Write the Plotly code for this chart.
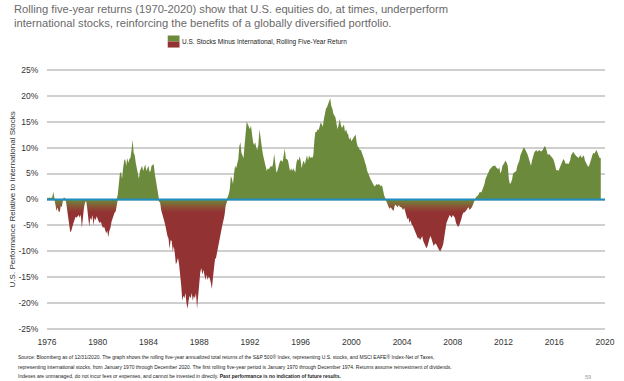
import pandas as pd
import plotly.graph_objects as go

# Rolling five-year return: U.S. stocks minus international (percentage points), monthly from Jan 1976
start_month = "1976-01-01"
rel_return = [
    0.4, 0.2, 0.4, 0.3, 0.3, 0.5, 1.5, 0.3, -1.0, -2.2, -1.5, -2.3,            # 1976
    -2.4, -1.2, -1.5, -0.3, 0.4, 0.3, -0.4, -2.0, -3.5, -5.0, -6.3, -6.0,      # 1977
    -5.0, -4.5, -4.0, -3.3, -3.5, -3.2, -3.0, -3.5, -2.9, -5.5, -3.0, -1.6,    # 1978
    -0.6, -0.3, -1.5, -3.0, -5.2, -3.5, -4.0, -3.0, -5.0, -3.5, -4.0, -3.2,    # 1979
    -3.8, -4.3, -4.5, -4.3, -5.0, -5.5, -5.2, -5.8, -6.5, -6.0, -7.2, -6.0,    # 1980
    -5.5, -4.3, -3.6, -3.0, -2.5, -2.3, -1.0, 1.0, 3.0, 5.0, 5.3, 4.0,         # 1981
    6.0, 7.5, 7.8, 6.5, 8.0, 7.0, 7.8, 8.0, 9.5, 11.5, 9.0, 8.5,               # 1982
    7.0, 5.8, 4.5, 4.0, 5.5, 6.2, 6.5, 5.5, 6.0, 6.8, 5.5, 6.0,                # 1983
    6.5, 5.3, 5.5, 6.5, 6.6, 6.8, 5.0, 3.5, 2.0, 0.5, -0.4, -0.6,              # 1984
    -2.0, -3.0, -3.8, -4.2, -5.0, -6.5, -7.0, -7.5, -9.5, -7.8, -8.0, -10.0,   # 1985
    -9.0, -10.5, -12.5, -12.0, -11.2, -12.5, -14.0, -16.5, -19.5, -18.5, -19.0, -18.0,  # 1986
    -20.0, -21.0, -19.5, -18.5, -19.0, -18.0, -19.5, -18.5, -19.0, -18.0, -21.0, -18.0,  # 1987
    -16.0, -14.0, -13.2, -14.5, -13.5, -14.8, -15.5, -14.5, -15.5, -14.8, -15.2, -16.0,  # 1988
    -17.2, -15.0, -12.5, -11.5, -11.2, -10.0, -9.3, -8.0, -6.5, -5.5, -4.8, -4.0,       # 1989
    -3.0, -1.2, -0.3, 0.5, 1.0, 2.0, 4.5, 4.0, 3.0, 5.0, 6.5, 6.0,             # 1990
    6.8, 7.8, 10.2, 11.0, 9.0, 8.5, 8.0, 10.5, 13.0, 15.0, 14.5, 14.0,         # 1991
    13.5, 14.2, 12.5, 11.0, 10.5, 11.0, 10.0, 9.5, 10.5, 13.5, 12.0, 10.0,     # 1992
    9.0, 8.0, 7.0, 6.0, 5.5, 6.0, 5.8, 6.2, 6.5, 6.2, 7.0, 8.8,                # 1993
    7.0, 5.2, 5.5, 6.5, 7.0, 7.5, 7.5, 7.2, 9.0, 9.8, 7.8, 7.8,                # 1994
    7.5, 6.2, 5.5, 6.0, 5.5, 6.0, 5.5, 5.2, 7.0, 7.8, 7.5, 8.3,                # 1995
    7.5, 6.0, 7.0, 7.5, 6.8, 7.5, 8.5, 7.5, 8.5, 8.0, 8.2, 8.0,                # 1996
    8.5, 11.5, 13.0, 13.0, 13.5, 13.3, 14.0, 14.8, 14.5, 14.0, 15.5, 17.0,     # 1997
    17.5, 17.8, 18.5, 19.0, 19.5, 18.0, 17.5, 16.5, 16.0, 15.8, 14.5, 13.5,    # 1998
    14.5, 15.5, 14.5, 13.8, 14.0, 14.5, 13.0, 13.5, 12.8, 12.5, 11.5, 12.0,    # 1999
    11.2, 11.5, 11.8, 12.0, 12.5, 11.0, 10.2, 10.0, 9.5, 9.5, 9.0, 8.5,        # 2000
    7.8, 7.0, 6.5, 5.5, 4.8, 4.5, 4.0, 3.5, 3.0, 2.8, 2.5, 2.8,                # 2001
    3.0, 2.8, 3.0, 2.8, 2.5, 2.8, 1.5, 0.8, 0.3, -0.3, -0.8, -1.5,             # 2002
    -1.8, -1.5, -1.8, -2.0, -2.2, -1.2, -1.0, -1.3, -1.5, -1.0, -1.5, -1.4,    # 2003
    -1.6, -2.0, -1.6, -2.5, -2.8, -3.8, -3.5, -4.5, -4.0, -4.8, -5.0, -5.5,    # 2004
    -6.0, -6.5, -7.2, -7.5, -7.3, -7.8, -7.5, -7.0, -8.0, -8.5, -9.2, -9.4,    # 2005
    -9.0, -8.0, -7.5, -7.0, -7.5, -8.3, -9.0, -8.5, -8.5, -9.0, -9.5, -9.7,    # 2006
    -10.0, -9.6, -9.2, -8.5, -7.0, -6.0, -4.5, -4.0, -3.5, -3.0, -3.2, -3.5,   # 2007
    -3.0, -3.2, -3.5, -4.5, -5.0, -5.3, -5.0, -4.5, -3.8, -3.0, -2.5, -2.5,    # 2008
    -2.3, -2.0, -1.7, -1.5, -2.0, -1.8, -1.5, -1.0, -0.5, 0.1, 0.5, 0.7,       # 2009
    0.8, 1.3, 1.5, 1.3, 1.8, 2.5, 3.0, 4.0, 4.5, 5.0, 5.2, 5.8,                # 2010
    6.0, 6.3, 6.5, 6.4, 6.6, 6.2, 6.0, 5.8, 6.2, 5.0, 5.5, 6.5,                # 2011
    6.8, 7.2, 7.5, 7.0, 6.5, 4.0, 3.0, 3.2, 3.8, 5.0, 5.2, 5.2,                # 2012
    5.5, 6.5, 7.0, 7.5, 8.5, 9.0, 9.5, 10.0, 9.8, 9.5, 9.0, 8.5,               # 2013
    7.8, 7.2, 6.5, 7.5, 8.3, 9.0, 9.3, 9.5, 9.2, 9.3, 9.5, 9.3,                # 2014
    9.3, 9.5, 9.8, 10.3, 10.0, 9.3, 8.5, 8.8, 8.5, 8.3, 8.0, 7.8,              # 2015
    7.2, 6.0, 5.6, 5.7, 5.5, 6.0, 6.5, 7.2, 7.5, 7.8, 7.0, 6.8,                # 2016
    7.0, 6.8, 7.0, 7.5, 8.5, 9.0, 9.2, 8.8, 8.5, 8.3, 8.2, 8.0,                # 2017
    8.3, 8.5, 8.0, 8.3, 8.5, 7.5, 7.0, 6.5, 6.3, 6.5, 7.0, 7.8,                # 2018
    8.5, 9.0, 8.8, 9.2, 9.5, 9.0, 8.5, 8.0, 8.0,                               # 2019
]
year_ticks = [1976, 1980, 1984, 1988, 1992, 1996, 2000, 2004, 2008, 2012, 2016, 2020]
pct_ticks = [-25, -20, -15, -10, -5, 0, 5, 10, 15, 20, 25]

title_lines = ["Rolling five-year returns (1970-2020) show that U.S. equities do, at times, underperform",
               "international stocks, reinforcing the benefits of a globally diversified portfolio."]
legend_text = "U.S. Stocks Minus International, Rolling Five-Year Return"
yaxis_text = "U.S. Performance Relative to International Stocks"
footnote_lines = [
    "Source: Bloomberg as of 12/31/2020. The graph shows the rolling five-year annualized total returns of the S&P 500® Index, representing U.S. stocks, and MSCI EAFE® Index-Net of Taxes,",
    "representing international stocks, from January 1970 through December 2020. The first rolling five-year period is January 1970 through December 1974. Returns assume reinvestment of dividends.",
    "Indexes are unmanaged, do not incur fees or expenses, and cannot be invested in directly. <b>Past performance is no indication of future results.</b>",
]
page_number = "59"

GREEN = "#6C8A3B"
RED = "#923232"
BLUE = "#1F8DC2"
SANS = "Liberation Sans, Arial, sans-serif"

W, H = 624, 381
L, R, T, B = 46.7, 9.7, 68.4, 50.4
PW, PH = W - L - R, H - T - B


def px(x):
    return (x - L) / PW


def py(y):
    return (H - B - y) / PH


dates = pd.date_range(start_month, periods=len(rel_return), freq="MS")
pos = [max(v, 0) for v in rel_return]
neg = [min(v, 0) for v in rel_return]

fig = go.Figure()
fig.add_trace(go.Scatter(x=dates, y=pos, mode="lines", line=dict(width=0, color=GREEN),
                         fill="tozeroy", fillcolor=GREEN, hoverinfo="skip", showlegend=False))
fig.add_trace(go.Scatter(x=dates, y=neg, mode="lines", line=dict(width=0, color=RED),
                         fill="tozeroy",
                         fillgradient=dict(type="vertical", start=-2.5, stop=0,
                                           colorscale=[[0, RED], [0.35, "#8E4A34"], [1, GREEN]]),
                         hoverinfo="skip", showlegend=False))

fig.add_shape(type="line", xref="paper", x0=0, x1=1, yref="y", y0=0, y1=0,
              line=dict(color=BLUE, width=2), layer="above")

# title (two separate lines for tight spacing)
for i, line in enumerate(title_lines):
    fig.add_annotation(xref="paper", yref="paper", x=px(11), y=py(10 + 14 * i),
                       xanchor="left", yanchor="middle", showarrow=False, text=line,
                       font=dict(family=SANS, size=11.2, color="#6A6A6A"))

# legend swatch (manual)
fig.add_shape(type="rect", xref="paper", yref="paper", x0=px(169.5), x1=px(181.5),
              y0=py(42), y1=py(36), fillcolor=GREEN, line=dict(width=0))
fig.add_shape(type="rect", xref="paper", yref="paper", x0=px(169.5), x1=px(181.5),
              y0=py(48), y1=py(42), fillcolor=RED, line=dict(width=0))
fig.add_annotation(xref="paper", yref="paper", x=px(182), y=py(42),
                   xanchor="left", yanchor="middle", showarrow=False, text=legend_text,
                   font=dict(family=SANS, size=6.5, color="#222222"))

fig.add_annotation(xref="paper", yref="paper", x=px(12), y=0.5, textangle=-90,
                   xanchor="center", yanchor="middle", showarrow=False, text=yaxis_text,
                   font=dict(family=SANS, size=8, color="#333333"))

for i, line in enumerate(footnote_lines):
    fig.add_annotation(xref="paper", yref="paper", x=px(15), y=py(357 + 9.3 * i),
                       xanchor="left", yanchor="middle", align="left", showarrow=False,
                       text=line, font=dict(family=SANS, size=5.0, color="#222222"))
fig.add_annotation(xref="paper", yref="paper", x=px(597), y=py(376.5),
                   xanchor="center", yanchor="middle", showarrow=False, text=page_number,
                   font=dict(family=SANS, size=5.5, color="#999999"))

fig.update_layout(
    width=W, height=H,
    margin=dict(l=L, r=R, t=T, b=B, pad=0),
    paper_bgcolor="white", plot_bgcolor="white",
    xaxis=dict(type="date", range=["1976-01-01", "2020-01-01"],
               tickvals=[f"{y}-01-01" for y in year_ticks], ticktext=[str(y) for y in year_ticks],
               showgrid=False, showline=False, zeroline=False,
               ticks="outside", ticklen=3, tickcolor="rgba(0,0,0,0)",
               tickfont=dict(family=SANS, size=8.5, color="#333333")),
    yaxis=dict(range=[-25.3, 25.3], tickvals=pct_ticks, ticktext=[f"{v}%" for v in pct_ticks],
               showgrid=True, gridcolor="#CFCFCF", gridwidth=1.5, zeroline=False, showline=False,
               ticks="outside", ticklen=6, tickcolor="rgba(0,0,0,0)",
               tickfont=dict(family=SANS, size=8.5, color="#333333")),
)

fig.write_html("out.html", config={"displayModeBar": False},
               post_script="document.body.style.margin='0';")
